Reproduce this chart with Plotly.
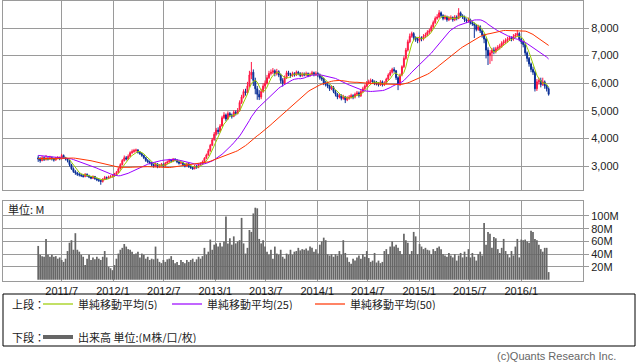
import plotly.graph_objects as go
import pandas as pd

# ---------------- data (weekly) ----------------
start_week = "2011-04-08"

closes = [
    3250, 3200, 3300, 3230, 3280, 3250, 3300, 3260, 3220, 3280,
    3300, 3260, 3380, 3300, 3250, 3200, 3050, 2900, 2800, 2750,
    2700, 2680, 2650, 2620, 2700, 2640, 2600, 2560, 2620, 2540,
    2500, 2480, 2440, 2520, 2580, 2560, 2600, 2620, 2650, 2700,
    2760, 2900, 3050, 3200, 3300, 3250, 3350, 3480, 3520, 3560,
    3580, 3500, 3450, 3380, 3300, 3200, 3150, 3120, 3050, 3000,
    3080, 2980, 3020, 3060, 3000, 3100, 3150, 3200, 3180, 3250,
    3220, 3150, 3100, 3120, 3050, 3000, 3080, 2980, 2950, 2900,
    3000, 2950, 3050, 3080, 3150, 3280, 3400, 3550, 3750, 3950,
    4150, 4300, 4250, 4450, 4750, 4850, 4700, 4900, 4850, 4800,
    4950, 4900, 5000, 5300, 5500, 5700, 5650, 5900, 6300, 6400,
    6100, 5800, 5600, 5500, 5700, 5900, 6000, 6200, 6350, 6400,
    6450, 6350, 6420, 6300, 6100, 6000, 6200, 6380, 6320, 6280,
    6350, 6300, 6400, 6350, 6280, 6330, 6300, 6350, 6280, 6320,
    6380, 6300, 6350, 6300, 6200, 6150, 6000, 5950, 5900, 5800,
    5850, 5700, 5600, 5500, 5550, 5450, 5500, 5400, 5450, 5500,
    5550, 5500, 5600, 5650, 5550, 5700, 5800, 5900, 6000, 6050,
    6100, 6050, 6000, 5980, 5950, 6050, 5950, 6000, 6150, 6300,
    6400, 6500, 6450, 6200, 5950, 6300, 6600, 6900, 7200, 7500,
    7700, 7800, 7650, 7600, 7550, 7650, 7600, 7700, 7750, 7850,
    7900, 8050, 8200, 8350, 8400, 8550, 8450, 8350, 8400, 8300,
    8350, 8380, 8300, 8400, 8350, 8550, 8450, 8400, 8300, 8250,
    8300, 8200, 8150, 8100, 7950, 8050, 7900, 7750, 7600, 7200,
    7000, 7100, 7200, 7150, 7250, 7300, 7350, 7450, 7500, 7550,
    7600, 7650, 7600, 7700, 7750, 7800, 7600, 7500, 7400, 7100,
    6900, 6700, 6500, 6400, 5800, 6050, 6100, 5950, 6050, 5900,
    5800, 5600,
]

opens = [
    3300, 3250, 3200, 3300, 3230, 3280, 3250, 3300, 3260, 3220,
    3280, 3300, 3260, 3380, 3300, 3250, 3200, 3050, 2900, 2800,
    2750, 2700, 2680, 2650, 2620, 2700, 2640, 2600, 2560, 2620,
    2540, 2500, 2480, 2440, 2520, 2580, 2560, 2600, 2620, 2650,
    2700, 2760, 2900, 3050, 3200, 3300, 3250, 3350, 3480, 3520,
    3560, 3580, 3500, 3450, 3380, 3300, 3200, 3150, 3120, 3050,
    3000, 3080, 2980, 3020, 3060, 3000, 3100, 3150, 3200, 3180,
    3250, 3220, 3150, 3100, 3120, 3050, 3000, 3080, 2980, 2950,
    2900, 3000, 2950, 3050, 3080, 3150, 3280, 3400, 3550, 3750,
    3950, 4150, 4300, 4250, 4450, 4750, 4850, 4700, 4900, 4850,
    4800, 4950, 4900, 5000, 5300, 5500, 5700, 5650, 5900, 6300,
    6400, 6100, 5800, 5600, 5500, 5700, 5900, 6000, 6200, 6350,
    6400, 6450, 6350, 6420, 6300, 6100, 6000, 6200, 6380, 6320,
    6280, 6350, 6300, 6400, 6350, 6280, 6330, 6300, 6350, 6280,
    6320, 6380, 6300, 6350, 6300, 6200, 6150, 6000, 5950, 5900,
    5800, 5850, 5700, 5600, 5500, 5550, 5450, 5500, 5400, 5450,
    5500, 5550, 5500, 5600, 5650, 5550, 5700, 5800, 5900, 6000,
    6050, 6100, 6050, 6000, 5980, 5950, 6050, 5950, 6000, 6150,
    6300, 6400, 6500, 6450, 6200, 5950, 6300, 6600, 6900, 7200,
    7500, 7700, 7800, 7650, 7600, 7550, 7650, 7600, 7700, 7750,
    7850, 7900, 8050, 8200, 8350, 8400, 8550, 8450, 8350, 8400,
    8300, 8350, 8380, 8300, 8400, 8350, 8550, 8450, 8400, 8300,
    8250, 8300, 8200, 8150, 8100, 7950, 8050, 7900, 7750, 7600,
    7200, 7000, 7100, 7200, 7150, 7250, 7300, 7350, 7450, 7500,
    7550, 7600, 7650, 7600, 7700, 7750, 7800, 7600, 7500, 7400,
    7100, 6900, 6700, 6500, 6400, 5800, 6050, 6100, 5950, 6050,
    5900, 5800,
]

highs = [
    3380, 3320, 3360, 3350, 3400, 3330, 3370, 3340, 3300, 3330,
    3360, 3340, 3440, 3420, 3330, 3280, 3220, 3080, 2950, 2850,
    2790, 2760, 2720, 2700, 2740, 2730, 2680, 2640, 2660, 2640,
    2580, 2540, 2500, 2560, 2640, 2620, 2650, 2670, 2700, 2750,
    2820, 2950, 3100, 3250, 3380, 3360, 3420, 3530, 3600, 3620,
    3630, 3610, 3540, 3480, 3410, 3330, 3250, 3200, 3150, 3090,
    3130, 3100, 3070, 3110, 3090, 3150, 3200, 3260, 3240, 3290,
    3280, 3240, 3180, 3170, 3150, 3090, 3120, 3100, 3020, 2990,
    3040, 3030, 3090, 3130, 3200, 3320, 3450, 3620, 3800, 4020,
    4230, 4380, 4400, 4520, 4820, 4950, 4900, 4980, 4960, 4900,
    5020, 5010, 5100, 5380, 5580, 5780, 5800, 6050, 6450, 6770,
    6500, 6200, 5900, 5750, 5800, 6000, 6100, 6300, 6450, 6500,
    6550, 6500, 6520, 6470, 6350, 6180, 6280, 6450, 6450, 6380,
    6420, 6400, 6460, 6450, 6400, 6400, 6390, 6420, 6390, 6380,
    6450, 6420, 6430, 6400, 6350, 6260, 6200, 6080, 6000, 5950,
    5920, 5900, 5750, 5650, 5620, 5600, 5580, 5540, 5530, 5570,
    5620, 5600, 5660, 5720, 5700, 5760, 5870, 5960, 6080, 6130,
    6170, 6150, 6100, 6080, 6040, 6110, 6100, 6070, 6200, 6360,
    6480, 6560, 6580, 6480, 6250, 6350, 6650, 6980, 7280, 7580,
    7800, 7870, 7850, 7700, 7660, 7720, 7700, 7780, 7830, 7920,
    7980, 8120, 8270, 8420, 8500, 8650, 8600, 8500, 8480, 8450,
    8430, 8460, 8420, 8470, 8460, 8720, 8600, 8500, 8450, 8350,
    8380, 8340, 8250, 8200, 8150, 8120, 8100, 7950, 7800, 7650,
    7300, 7200, 7280, 7300, 7320, 7380, 7430, 7520, 7580, 7630,
    7680, 7720, 7700, 7780, 7820, 7930, 7850, 7650, 7550, 7450,
    7150, 6950, 6750, 6600, 6450, 6150, 6200, 6200, 6200, 6100,
    5950, 5850,
]

lows = [
    3150, 3120, 3170, 3180, 3200, 3200, 3220, 3200, 3160, 3190,
    3240, 3210, 3240, 3260, 3200, 3130, 2980, 2860, 2750, 2680,
    2640, 2620, 2600, 2580, 2590, 2600, 2560, 2520, 2530, 2500,
    2450, 2420, 2320, 2400, 2490, 2510, 2530, 2560, 2580, 2610,
    2660, 2740, 2870, 3020, 3160, 3200, 3220, 3320, 3440, 3480,
    3500, 3450, 3400, 3330, 3250, 3150, 3100, 3060, 2990, 2940,
    2960, 2920, 2940, 2980, 2950, 2970, 3060, 3110, 3130, 3140,
    3170, 3100, 3050, 3060, 3000, 2950, 2960, 2930, 2890, 2860,
    2880, 2900, 2920, 3010, 3040, 3120, 3250, 3370, 3520, 3720,
    3920, 4100, 4150, 4220, 4420, 4700, 4620, 4680, 4780, 4720,
    4770, 4830, 4870, 4980, 5250, 5450, 5550, 5600, 5850, 6150,
    5900, 5600, 5400, 5390, 5420, 5650, 5800, 5950, 6150, 6280,
    6330, 6250, 6280, 6220, 6000, 5880, 5960, 6150, 6260, 6200,
    6230, 6240, 6260, 6290, 6220, 6230, 6250, 6250, 6220, 6230,
    6280, 6250, 6260, 6220, 6130, 6080, 5930, 5880, 5820, 5720,
    5750, 5640, 5520, 5420, 5450, 5380, 5400, 5280, 5350, 5400,
    5440, 5420, 5450, 5550, 5480, 5500, 5650, 5750, 5850, 5950,
    5990, 5980, 5930, 5920, 5880, 5900, 5880, 5900, 5960, 6100,
    6250, 6350, 6380, 6120, 5750, 5900, 6250, 6550, 6850, 7150,
    7450, 7650, 7550, 7500, 7450, 7480, 7520, 7550, 7640, 7700,
    7780, 7850, 8000, 8150, 8300, 8350, 8380, 8280, 8300, 8230,
    8250, 8290, 8230, 8250, 8280, 8320, 8380, 8330, 8220, 8180,
    8200, 8130, 8080, 7640, 7880, 7900, 7820, 7650, 7450, 6900,
    6660, 6700, 6800, 7050, 7080, 7180, 7220, 7280, 7380, 7420,
    7470, 7530, 7520, 7540, 7640, 7690, 7520, 7420, 7300, 7000,
    6780, 6600, 6400, 6300, 5700, 5720, 5950, 5850, 5900, 5800,
    5700, 5550,
]

# volume in millions of shares
volume_m = [
    53, 39, 37, 36, 64, 39, 36, 39, 36, 37,
    33, 35, 31, 28, 33, 45, 58, 62, 47, 73,
    47, 44, 39, 36, 23, 33, 39, 31, 35, 32,
    36, 33, 31, 36, 45, 35, 20, 18, 15, 23,
    33, 41, 47, 50, 56, 52, 48, 47, 44, 40,
    41, 44, 35, 41, 39, 33, 36, 31, 33, 32,
    52, 33, 28, 26, 31, 28, 32, 33, 37, 31,
    26, 28, 23, 31, 28, 26, 31, 28, 31, 33,
    28, 32, 36, 33, 37, 50, 39, 44, 63, 47,
    55, 57, 52, 58, 52, 60, 99, 57, 65, 55,
    68, 57, 60, 62, 97, 57, 41, 50, 78, 75,
    104, 113, 112, 64, 57, 62, 52, 44, 39, 47,
    33, 52, 41, 39, 47, 36, 33, 41, 39, 47,
    39, 44, 45, 50, 46, 48, 47, 49, 46, 52,
    50, 44, 48, 41, 55, 60, 66, 62, 40, 38,
    40, 36, 40, 38, 45, 39, 62, 42, 35, 28,
    25, 33, 30, 35, 38, 33, 40, 36, 45, 34,
    28, 30, 42, 27, 30, 26, 28, 45, 48, 40,
    52, 60, 52, 55, 50, 45, 40, 72, 62, 58,
    40, 45, 75, 68, 40, 56, 52, 48, 50, 47,
    46, 40, 48, 45, 50, 52, 48, 40, 38, 36,
    42, 38, 35, 40, 30, 38, 42, 35, 44, 36,
    48, 35, 42, 36, 30, 40, 44, 38, 89, 55,
    75, 72, 50, 67, 65, 48, 42, 50, 64, 45,
    40, 35, 45, 38, 52, 64, 35, 63, 62, 63,
    60, 58, 77, 75, 64, 62, 55, 48, 44, 50,
    50, 12,
]

# closes of the 49 weeks before the first drawn week (needed for the moving averages)
prior_closes = [
    3100, 3130, 3150, 3120, 3170, 3140, 3160, 3180, 3150, 3130,
    3170, 3190, 3160, 3140, 3120, 3150, 3170, 3180, 3140, 3130,
    3160, 3150, 3170, 3140, 3150,
    3350, 3380, 3420, 3400, 3450, 3430, 3470, 3500, 3480, 3450,
    3420, 3460, 3400, 3380, 3420, 3350, 3380, 3400, 3350, 3330,
    3300, 3280, 3260, 3290,
]

x_tick_dates = ["2011-07-01", "2012-01-01", "2012-07-01", "2013-01-01", "2013-07-01",
                "2014-01-01", "2014-07-01", "2015-01-01", "2015-07-01", "2016-01-01"]
x_tick_labels = ["2011/7", "2012/1", "2012/7", "2013/1", "2013/7",
                 "2014/1", "2014/7", "2015/1", "2015/7", "2016/1"]
price_ticks = [3000, 4000, 5000, 6000, 7000, 8000]
price_tick_labels = ["3,000", "4,000", "5,000", "6,000", "7,000", "8,000"]
vol_ticks = [20, 40, 60, 80, 100]
vol_tick_labels = ["20M", "40M", "60M", "80M", "100M"]
ma_periods = [5, 25, 50]
ma_names = ["単純移動平均(5)", "単純移動平均(25)", "単純移動平均(50)"]
volume_name = "出来高 単位:(M株/口/枚)"

n = len(closes)
assert len(opens) == n and len(highs) == n and len(lows) == n and len(volume_m) == n, \
    (len(closes), len(opens), len(highs), len(lows), len(volume_m))

dates = pd.date_range(start_week, periods=n, freq="7D")
full_close = pd.Series(prior_closes + closes)
mas = [full_close.rolling(p).mean().iloc[-n:].to_numpy() for p in ma_periods]

# ---------------- styling ----------------
W, H = 638, 362
RED = "#FF1744"
BLUE = "#0A2F96"
MA_COLORS = ["#99CC00", "#9900FF", "#FF3300"]
GRID = "#9a9a9a"
VOLC = "#666666"
LAT = "Liberation Sans, Arial, sans-serif"
CJK = "Noto Sans CJK JP, sans-serif"


def px(x):
    return x / W


def py(y):
    return 1 - y / H


fig = go.Figure()
fig.add_trace(go.Candlestick(
    x=dates, open=opens, high=highs, low=lows, close=closes,
    increasing=dict(line=dict(color=RED, width=1), fillcolor=RED),
    decreasing=dict(line=dict(color=BLUE, width=1), fillcolor=BLUE),
    whiskerwidth=0, xaxis="x", yaxis="y", showlegend=False, hoverinfo="skip",
))
for ma, col in zip(mas, MA_COLORS):
    fig.add_trace(go.Scatter(x=dates, y=ma, mode="lines", line=dict(color=col, width=1),
                             xaxis="x", yaxis="y", showlegend=False, hoverinfo="skip"))
fig.add_trace(go.Bar(x=dates, y=volume_m, marker=dict(color=VOLC, line=dict(width=0)),
                     xaxis="x2", yaxis="y2", showlegend=False, hoverinfo="skip"))

x_range = ["2010-12-03", "2016-08-09"]
common_x = dict(type="date", range=x_range, domain=[px(3), px(583)],
                tickvals=x_tick_dates, ticktext=x_tick_labels,
                showgrid=True, gridcolor=GRID, gridwidth=1,
                showline=True, linecolor=GRID, linewidth=1, mirror=True,
                zeroline=False, ticks="", fixedrange=True)
common_y = dict(side="right", showgrid=True, gridcolor=GRID, gridwidth=1,
                showline=True, linecolor=GRID, linewidth=1, mirror=True,
                zeroline=False, ticks="outside", ticklen=5, tickcolor=GRID,
                fixedrange=True,
                tickfont=dict(family=LAT, size=11, color="#222222"))

fig.update_layout(
    width=W, height=H, margin=dict(l=0, r=0, t=0, b=0, pad=0),
    paper_bgcolor="white", plot_bgcolor="white", showlegend=False,
    hovermode=False, bargap=0.12,
    xaxis=dict(common_x, anchor="y", showticklabels=False,
               rangeslider=dict(visible=False)),
    yaxis=dict(common_y, domain=[py(190), py(1)], range=[2130, 8980],
               tickvals=price_ticks, ticktext=price_tick_labels, anchor="x"),
    xaxis2=dict(common_x, anchor="y2", showticklabels=True,
                tickfont=dict(family=LAT, size=11, color="#222222")),
    yaxis2=dict(common_y, domain=[py(281), py(201)], range=[-2, 123.5],
                tickvals=vol_ticks, ticktext=vol_tick_labels, anchor="x2"),
)

shapes = [dict(type="rect", xref="paper", yref="paper", x0=px(3), x1=px(635),
               y0=py(346), y1=py(294), line=dict(color="black", width=1))]
annotations = []


def label(text, x, y, family=CJK, size=11, color="#222222", anchor="left"):
    annotations.append(dict(text=text, xref="paper", yref="paper", x=px(x), y=py(y),
                            xanchor=anchor, yanchor="middle", showarrow=False,
                            borderpad=0, height=12,
                            font=dict(family=family, size=size, color=color)))


def sample(x0, x1, y, color, width):
    shapes.append(dict(type="line", xref="paper", yref="paper", x0=px(x0), x1=px(x1),
                       y0=py(y), y1=py(y), line=dict(color=color, width=width)))


label("単位: M", 7, 209)
label("上段：", 11, 304)
for (lx0, lx1, tx), name, col in zip([(43, 73, 77), (172, 202, 206), (315, 345, 349)],
                                      ma_names, MA_COLORS):
    sample(lx0, lx1, 304, col, 1.2)
    label(name, tx, 304)
label("下段：", 11, 337)
sample(43, 73, 337, VOLC, 4)
label(volume_name, 77, 337)
label("(c)Quants Research Inc.", 617, 356, family=LAT, size=11, color="#666666", anchor="right")

fig.update_layout(shapes=shapes, annotations=annotations)
fig.write_html(
    "out.html",
    config={"displayModeBar": False, "staticPlot": True},
    post_script="document.body.style.margin='0';document.body.style.padding='0';"
                "document.body.style.overflow='hidden';",
)
